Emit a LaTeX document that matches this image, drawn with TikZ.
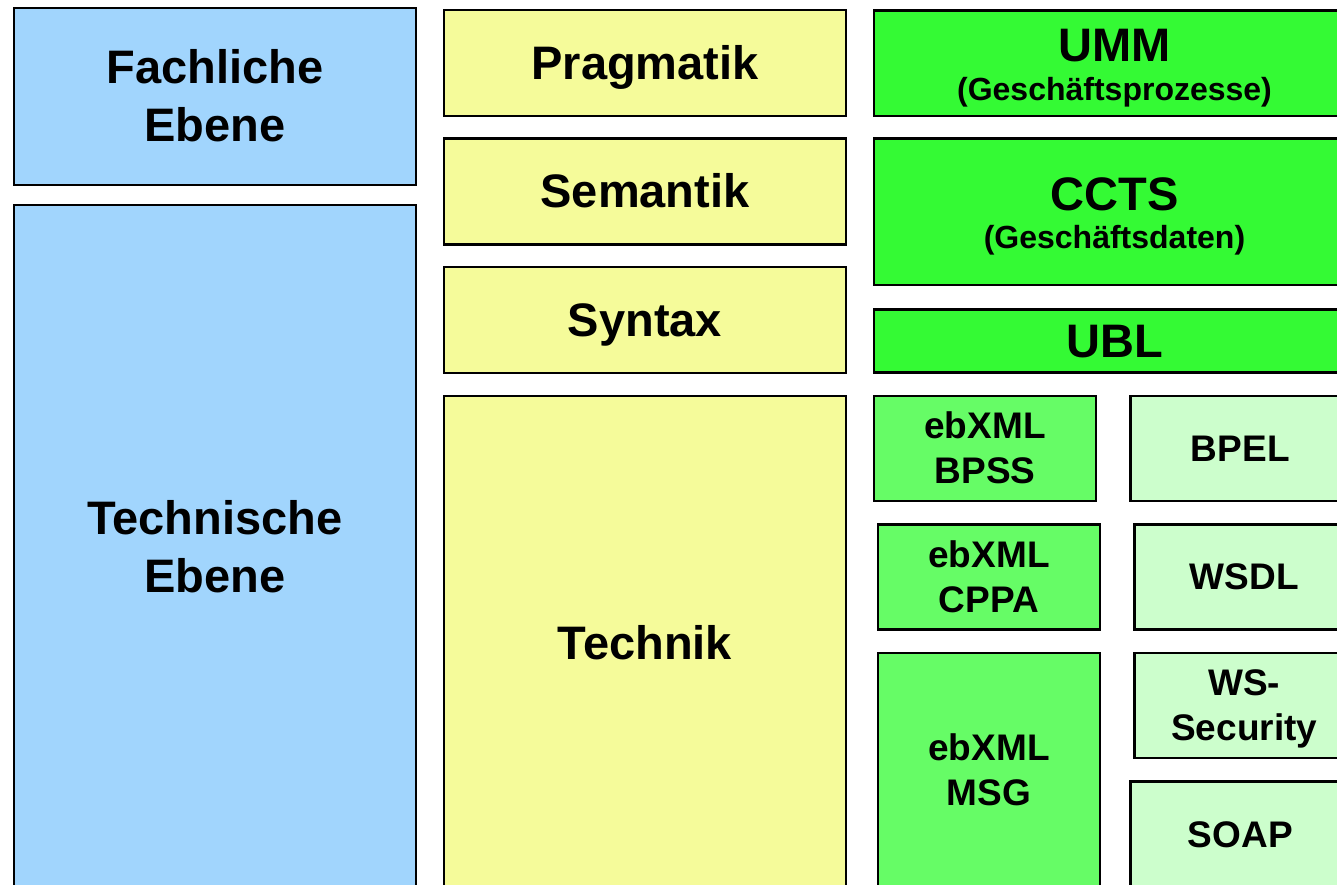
\documentclass[tikz,border=0pt]{standalone}
\usepackage{fontspec}
\setmainfont{Liberation Sans}

\definecolor{layerblue}{HTML}{A1D5FD}
\definecolor{layeryellow}{HTML}{F5FB9A}
\definecolor{stdgreen}{HTML}{34FA34}
\definecolor{ebxmlgreen}{HTML}{66FC66}
\definecolor{wsgreen}{HTML}{CCFECC}

% struts so that every label is centred on the font's full line height
\newcommand\topstrut{\rule{0pt}{0.905em}}
\newcommand\botstrut{\rule[-0.212em]{0pt}{0.212em}}

\tikzset{
  layer/.style={draw=black, line width=2.5pt, rectangle, anchor=north west,
    inner sep=0pt, outer sep=0pt, align=center},
  bigtext/.style={font=\bfseries\fontsize{47}{58}\selectfont},
  titletext/.style={font=\bfseries\fontsize{47}{38.5}\selectfont},
  smalltext/.style={font=\bfseries\fontsize{37}{45}\selectfont},
  levelbox/.style={layer, fill=layerblue, bigtext},
  aspectbox/.style={layer, fill=layeryellow, bigtext},
  stdbox/.style={layer, fill=stdgreen, titletext},
  ebxmlbox/.style={layer, fill=ebxmlgreen, smalltext},
  wsbox/.style={layer, fill=wsgreen, smalltext},
}

% #1 style, #2/#3 top-left corner, #4/#5 bottom-right corner, #6 name, #7 text
\newcommand\layerbox[7]{%
  \node[#1, minimum width={#4-#2}, minimum height={#5-#3}] (#6) at (#2,#3) {#7};}

\begin{document}
\begin{tikzpicture}[x=1pt, y=-1pt]
  \clip (0,0) rectangle (1337,884);

  % left column: levels
  \layerbox{levelbox}{14}{8}{416}{185}{fach}{\topstrut Fachliche\\Ebene\botstrut}
  \layerbox{levelbox}{14}{205}{416}{889}{techeb}{\topstrut Technische\\Ebene\botstrut}

  % middle column: aspects
  \layerbox{aspectbox}{444}{10}{846}{116}{prag}{\topstrut Pragmatik\botstrut}
  \layerbox{aspectbox}{444}{138.5}{846}{244.5}{sem}{\topstrut Semantik\botstrut}
  \layerbox{aspectbox}{444}{267}{846}{373}{syn}{\topstrut Syntax\botstrut}
  \layerbox{aspectbox}{444}{396}{846}{890}{technik}{\topstrut Technik\botstrut}

  % right column: standards
  \layerbox{stdbox}{874}{10.5}{1355}{116}{umm}{\topstrut UMM\\\fontsize{32}{38.5}\selectfont (Geschäftsprozesse)\botstrut}
  \layerbox{stdbox}{874}{138.5}{1355}{285}{ccts}{\topstrut CCTS\\\fontsize{32}{38.5}\selectfont (Geschäftsdaten)\botstrut}
  \layerbox{stdbox}{874}{309.5}{1355}{372.5}{ubl}{\topstrut UBL\botstrut}

  \layerbox{ebxmlbox}{874}{396}{1096}{501}{bpss}{\topstrut ebXML\\BPSS\botstrut}
  \layerbox{ebxmlbox}{878}{524.5}{1100}{629.5}{cppa}{\topstrut ebXML\\CPPA\botstrut}
  \layerbox{ebxmlbox}{878}{653}{1100}{887}{msg}{\topstrut ebXML\\MSG\botstrut}

  \layerbox{wsbox}{1130.5}{396}{1350}{501}{bpel}{\topstrut BPEL\botstrut}
  \layerbox{wsbox}{1134.5}{524.5}{1354}{629.5}{wsdl}{\topstrut WSDL\botstrut}
  \layerbox{wsbox}{1134.5}{653}{1354}{758}{wssec}{\topstrut WS-\\Security\botstrut}
  \layerbox{wsbox}{1130.5}{781.5}{1350}{888}{soap}{\topstrut SOAP\botstrut}
\end{tikzpicture}
\end{document}
